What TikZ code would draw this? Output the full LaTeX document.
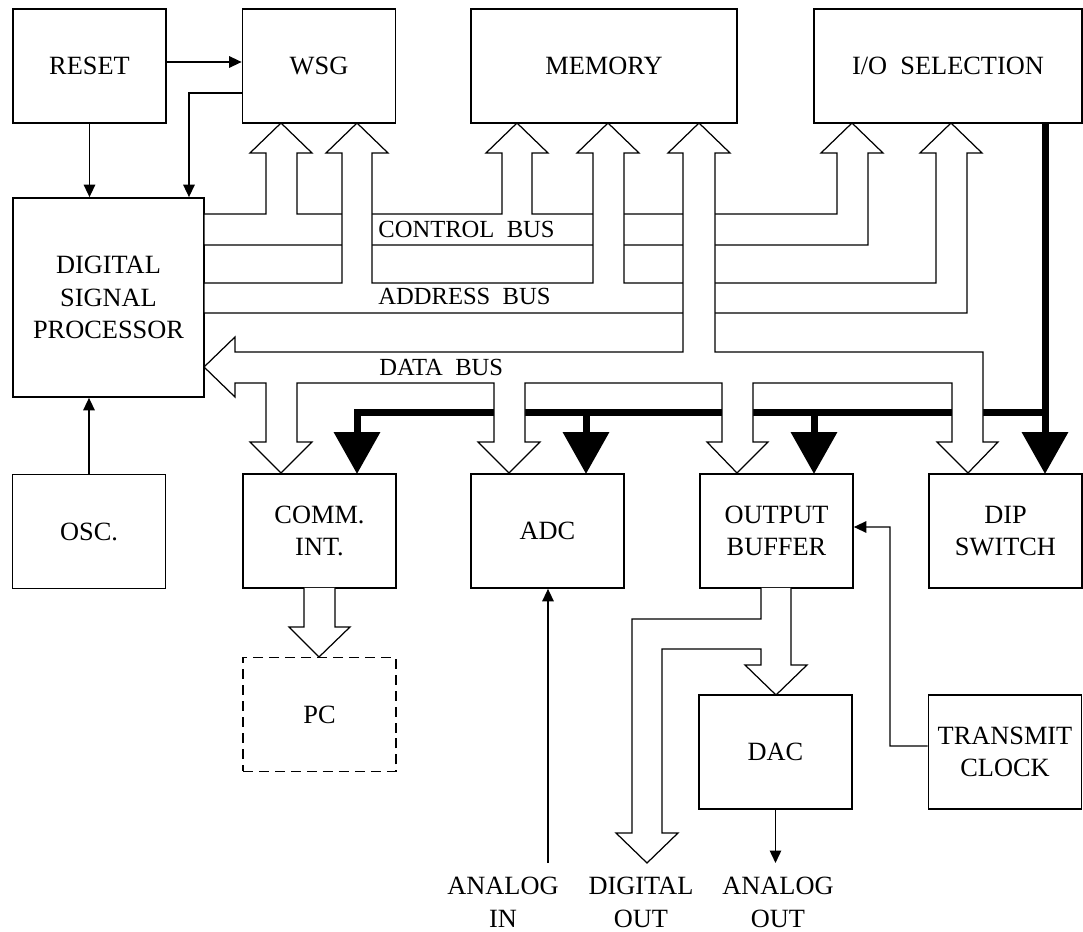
\documentclass[tikz,border=0pt]{standalone}
\usepackage{fontspec}
\setmainfont{Liberation Serif}
\usetikzlibrary{arrows.meta,positioning}

\newcommand{\wsp}{\hspace{0.5em}}

\tikzset{
  blk/.style={draw,line width=1pt,minimum width=3.06cm,minimum height=2.28cm,
    inner sep=0pt,align=center,font=\fontsize{15}{18.5}\selectfont},
  lbl/.style={inner sep=0pt,align=center,font=\fontsize{15}{18.5}\selectfont},
  buslbl/.style={inner sep=0pt,anchor=base west,font=\fontsize{14}{16}\selectfont},
  sig/.style={line width=0.8pt,-{Triangle[length=0.25cm,width=0.23cm]}},
  pipe/.style={draw,fill=white,line width=0.7pt,line join=miter},
  thickbus/.style={line width=0.14cm,-{Triangle[length=0.84cm,width=0.9cm]}},
}

\begin{document}
\begin{tikzpicture}[x=0.02cm,y=-0.02cm]
  \useasboundingbox (0,0) rectangle (1083,932);
  \fill[white] (0,0) rectangle (1083,932);

  % blocks
  \node[blk] (reset) at (89.5,66) {RESET};
  \node[blk] (wsg) at (319,66) {WSG};
  \node[blk,minimum width=5.32cm] (mem) at (604,66) {MEMORY};
  \node[blk,minimum width=5.36cm] (io) at (948,66) {I/O\wsp SELECTION};
  \node[blk,minimum width=3.82cm,minimum height=3.98cm] (dsp) at (108.5,297.5) {DIGITAL\\SIGNAL\\PROCESSOR};
  \node[blk] (osc) at (89,531.5) {OSC.};
  \node[blk] (comm) at (319.5,531) {COMM.\\INT.};
  \node[blk] (adc) at (547.5,531) {ADC};
  \node[blk] (obuf) at (776.5,531) {OUTPUT\\BUFFER};
  \node[blk] (dip) at (1005.5,531) {DIP\\SWITCH};
  \node[blk,dash pattern=on 0.2cm off 0.12cm] (pc) at (319.5,714.5) {PC};
  \node[blk] (dac) at (775.5,752) {DAC};
  \node[blk] (tclk) at (1005,752) {TRANSMIT\\CLOCK};

  % thick bus from I/O selection
  \draw[thickbus] (1045,123) -- (1045,474);
  \draw[thickbus] (1045,413) -| (357,474);
  \foreach \x in {586,814}
    \draw[thickbus] (\x,413) -- (\x,474);

  % control bus
  \filldraw[pipe] (204,214) -- (266,214) -- (266,153) -- (250,153) -- (281,123) -- (312,153) -- (297,153) -- (297,214)
    -- (502,214) -- (502,153) -- (486,153) -- (517,123) -- (548,153) -- (532,153) -- (532,214)
    -- (837,214) -- (837,153) -- (821,153) -- (852,123) -- (883,153) -- (868,153) -- (868,245)
    -- (204,245) -- cycle;

  % address bus
  \filldraw[pipe] (204,283) -- (342,283) -- (342,153) -- (326,153) -- (357,123) -- (388,153) -- (372,153) -- (372,283)
    -- (593,283) -- (593,153) -- (577,153) -- (608,123) -- (639,153) -- (624,153) -- (624,283)
    -- (936,283) -- (936,153) -- (920,153) -- (951,123) -- (982,153) -- (967,153) -- (967,313)
    -- (204,313) -- cycle;

  % data bus
  \filldraw[pipe] (204,367) -- (235,337) -- (235,352) -- (683,352) -- (683,153) -- (668,153) -- (699,123) -- (730,153)
    -- (715,153) -- (715,352) -- (983,352) -- (983,442) -- (998,442) -- (968,473) -- (937,442) -- (952,442) -- (952,383)
    -- (753,383) -- (753,442) -- (768,442) -- (737,473) -- (707,442) -- (722,442) -- (722,383)
    -- (525,383) -- (525,442) -- (540,442) -- (509,473) -- (478,442) -- (494,442) -- (494,383)
    -- (297,383) -- (297,442) -- (312,442) -- (281,473) -- (250,442) -- (266,442) -- (266,383)
    -- (235,383) -- (235,397) -- cycle;

  % comm. int. to pc
  \filldraw[pipe] (304,588) -- (304,627) -- (289,627) -- (319,657) -- (350,627) -- (335,627) -- (335,588);

  % output buffer to dac and digital out
  \filldraw[pipe] (761,588) -- (761,619) -- (632,619) -- (632,833) -- (616,833) -- (647,863) -- (678,833) -- (662,833)
    -- (662,649) -- (761,649) -- (761,665) -- (745,665) -- (776,695) -- (807,665) -- (791,665) -- (791,588);

  \node[buslbl] (ctrllbl) at (378,238) {CONTROL\wsp BUS};
  \node[buslbl] (addrlbl) at (378,305) {ADDRESS\wsp BUS};
  \node[buslbl] (datalbl) at (379,376) {DATA\wsp BUS};

  % signal lines
  \coordinate (ain) at (548,863);
  \coordinate (aout) at (775.5,863);
  \coordinate (tcbend) at (890,527);
  \draw[sig] ([yshift=0.08cm]reset.east) -- ([yshift=0.08cm]wsg.west);
  \draw[sig] (reset.south) -- (dsp.north -| reset.south);
  \draw[sig] ([yshift=-0.54cm]wsg.west) -| ([xshift=1.61cm]dsp.north);
  \draw[sig] (osc.north) -- (dsp.south -| osc.north);
  \draw[sig] (ain) -- (adc.south -| ain);
  \draw[sig] (dac.south) -- (aout);
  \draw[sig] ([yshift=0.12cm]tclk.west) -| (tcbend) -- ([yshift=0.08cm]obuf.east);

  \node[lbl,anchor=north] (ainlbl) at (503,877) {ANALOG\\IN};
  \node[lbl,anchor=north] (doutlbl) at (641,877) {DIGITAL\\OUT};
  \node[lbl,anchor=north] (aoutlbl) at (778,877) {ANALOG\\OUT};
\end{tikzpicture}
\end{document}
